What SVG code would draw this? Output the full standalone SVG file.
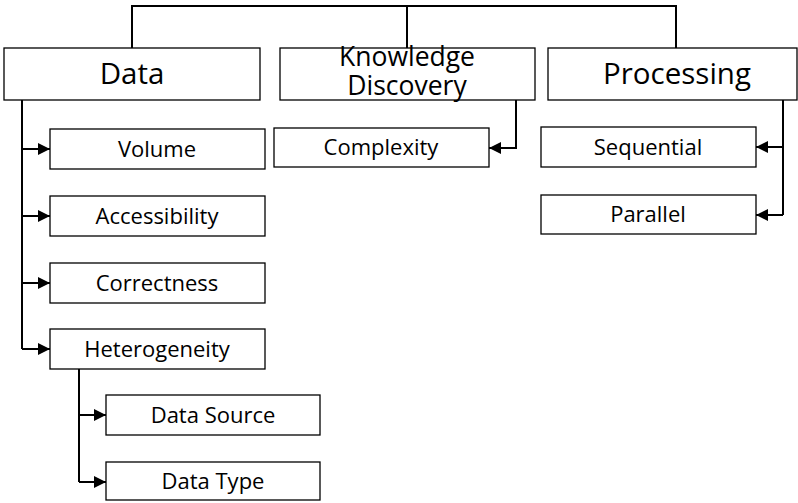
<svg xmlns="http://www.w3.org/2000/svg" width="798" height="503" viewBox="0 0 798 503">
<style>
.box{fill:#fff;stroke:#000;stroke-width:1.3}
.big{font-family:"Open Sans","Noto Sans",sans-serif;font-size:29.5px;text-anchor:middle;fill:#000}
.kd{font-family:"Open Sans","Noto Sans",sans-serif;font-size:26.5px;text-anchor:middle;fill:#000}
.sm{font-family:"Open Sans","Noto Sans",sans-serif;font-size:22px;text-anchor:middle;fill:#000}
.ln{fill:none;stroke:#000;stroke-width:2}
</style>
<defs>
<marker id="ah" viewBox="0 0 12 12" refX="12" refY="6" markerWidth="12" markerHeight="12" markerUnits="userSpaceOnUse" orient="auto">
<path d="M0,0 L12,6 L0,12 Z" fill="#000"/>
</marker>
</defs>
<g id="connectors">
<path class="ln" d="M132,48 V6 H676 V48"/>
<path class="ln" d="M407,6 V48"/>
<path class="ln" d="M22,100 V349" stroke-width="2.5"/>
<path class="ln" d="M22,149 H50" marker-end="url(#ah)"/>
<path class="ln" d="M22,216 H50" marker-end="url(#ah)"/>
<path class="ln" d="M22,283 H50" marker-end="url(#ah)"/>
<path class="ln" d="M22,349 H50" marker-end="url(#ah)"/>
<path class="ln" d="M79,369 V482"/>
<path class="ln" d="M79,415 H106" marker-end="url(#ah)"/>
<path class="ln" d="M79,482 H106" marker-end="url(#ah)"/>
<path class="ln" d="M516,100 V148 H489" marker-end="url(#ah)"/>
<path class="ln" d="M783,100 V215" stroke-width="2.5"/>
<path class="ln" d="M783,147 H756" marker-end="url(#ah)"/>
<path class="ln" d="M783,215 H756" marker-end="url(#ah)"/>
</g>
<g id="data"><rect class="box" x="4" y="48" width="256" height="52"/><text class="big" x="132" y="84">Data</text></g>
<g id="kd"><rect class="box" x="280" y="48" width="255" height="52"/><text class="kd" x="407" y="66">Knowledge</text><text class="kd" x="407" y="95">Discovery</text></g>
<g id="processing"><rect class="box" x="548" y="48" width="249" height="52"/><text class="big" x="677" y="84">Processing</text></g>
<g id="volume"><rect class="box" x="50" y="129" width="215" height="40"/><text class="sm" x="157" y="157">Volume</text></g>
<g id="accessibility"><rect class="box" x="50" y="196" width="215" height="40"/><text class="sm" x="157" y="224">Accessibility</text></g>
<g id="correctness"><rect class="box" x="50" y="263" width="215" height="40"/><text class="sm" x="157" y="291">Correctness</text></g>
<g id="heterogeneity"><rect class="box" x="50" y="329" width="215" height="40"/><text class="sm" x="157" y="357">Heterogeneity</text></g>
<g id="datasource"><rect class="box" x="106" y="395" width="214" height="40"/><text class="sm" x="213" y="423">Data Source</text></g>
<g id="datatype"><rect class="box" x="106" y="462" width="214" height="38"/><text class="sm" x="213" y="489">Data Type</text></g>
<g id="complexity"><rect class="box" x="274" y="128" width="215" height="39"/><text class="sm" x="381" y="155">Complexity</text></g>
<g id="sequential"><rect class="box" x="541" y="127" width="215" height="40"/><text class="sm" x="648" y="155">Sequential</text></g>
<g id="parallel"><rect class="box" x="541" y="195" width="215" height="39"/><text class="sm" x="648" y="222">Parallel</text></g>
</svg>
